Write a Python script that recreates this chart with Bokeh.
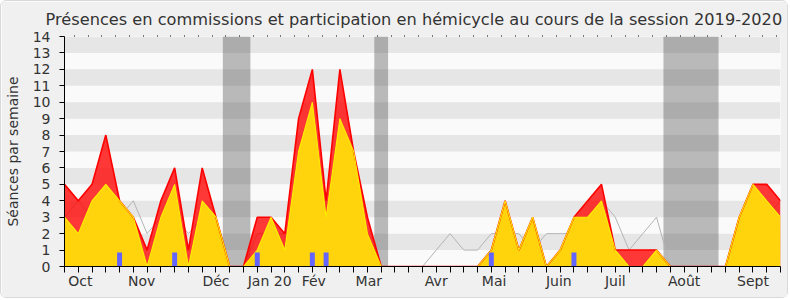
from bokeh.plotting import figure
from bokeh.models import FixedTicker, LinearAxis, Range1d
from bokeh.embed import file_html
from bokeh.resources import INLINE

# ---- data (weekly, session 2019-2020) ----
weeks = list(range(53))
hemicycle = [3, 4, 3, 4, 3, 4, 2, 3, 3, 2, 3, 3, 0, 0, 2, 2, 2, 3, 2, 3,
             6, 5, 2, 0, 0, 0, 0, 1, 2, 1, 1, 2, 2, 2, 1, 2, 2, 2, 3, 4,
             3, 1, 2, 3, 0, 0, 0, 0, 0, 2, 3, 3, 4]
commission_total = [5, 4, 5, 8, 4, 3, 1, 4, 6, 1, 6, 3, 0, 0, 3, 3, 2, 9, 12, 4,
                    12, 7, 3, 0, 0, 0, 0, 0, 0, 0, 0, 1, 4, 1, 3, 0, 1, 3, 4, 5,
                    1, 1, 1, 1, 0, 0, 0, 0, 0, 3, 5, 5, 4]
commission = [3, 2, 4, 5, 4, 3, 0, 3, 5, 0, 4, 3, 0, 0, 1, 3, 1, 7, 10, 3,
              9, 7, 2, 0, 0, 0, 0, 0, 0, 0, 0, 1, 4, 1, 3, 0, 1, 3, 3, 4,
              1, 0, 0, 1, 0, 0, 0, 0, 0, 3, 5, 4, 3]
questions = [0, 0, 0, 0, 1, 0, 0, 0, 1, 0, 0, 0, 0, 0, 1, 0, 0, 0, 1, 1,
             0, 0, 0, 0, 0, 0, 0, 0, 0, 0, 0, 1, 0, 0, 0, 0, 0, 1, 0, 0,
             0, 0, 0, 0, 0, 0, 0, 0, 0, 0, 0, 0, 0]
vac_start = [11.5, 22.5, 43.5]
vac_end = [13.5, 23.5, 47.5]
month_labels = ["Oct", "Nov", "Déc", "Jan 20", "Fév", "Mar", "Avr", "Mai",
                "Juin", "Juil", "Août", "Sept"]
month_pos = [1.15, 5.6, 11.0, 14.9, 18.1, 22.1, 27.0, 31.2, 35.9, 40.0, 45.0, 50.0]
y_ticks = list(range(15))

FONT = "DejaVu Sans"
TXT = "#333333"

p = figure(width=788, height=298,
           x_range=Range1d(0, 52), y_range=Range1d(0, 14),
           output_backend="svg", toolbar_location=None,
           min_border_left=60, min_border_right=9,
           min_border_top=35, min_border_bottom=33,
           background_fill_color="#fafafa", border_fill_color="#f0f0f0",
           outline_line_color=None)
p.styles = {"border": "1px solid #d9d9d9", "border-radius": "6px"}

p.title.text = "Présences en commissions et participation en hémicycle au cours de la session 2019-2020"
p.title.align = "left"
p.title.offset = -19
p.title.standoff = 13
p.title.text_font = FONT
p.title.text_font_size = "16.2px"
p.title.text_font_style = "normal"
p.title.text_color = TXT

p.grid.visible = False

# stripes
light_y = [k + 0.5 for k in y_ticks[0:-1:2]]
dark_y = [k + 0.5 for k in y_ticks[1:-1:2]]
p.hbar(y=light_y, height=1, left=0, right=52, fill_color="#fafafa", line_color=None)
p.hbar(y=dark_y, height=1, left=0, right=52, fill_color="#e6e6e6", line_color=None)

# vacation bands
p.quad(left=vac_start, right=vac_end, bottom=0, top=14,
       fill_color="#313131", fill_alpha=0.32, line_color=None)

# hemicycle line
p.line(weeks, hemicycle, line_color="#b4b4b4", line_width=1)

# commission areas
p.varea(x=weeks, y1=0, y2=commission_total, fill_color="#ff0000", fill_alpha=0.78)
p.varea(x=weeks, y1=0, y2=commission, fill_color="#ffd40c")
p.line(weeks, commission_total, line_color="#ff0000", line_width=1.6)
p.line(weeks, commission, line_color="#ffee00", line_width=1.1)

# questions bars
p.vbar(x=weeks, top=[q * 0.85 for q in questions], width=0.36,
       fill_color="#6464ff", line_color=None)

# axes
xa = p.xaxis[0]
xa.ticker = FixedTicker(ticks=month_pos, minor_ticks=weeks)
xa.major_label_overrides = {pos: lab for pos, lab in zip(month_pos, month_labels)}
xa.major_tick_out = 0
xa.major_tick_in = 0
xa.minor_tick_out = 6
xa.minor_tick_in = 0
xa.minor_tick_line_color = "black"
xa.axis_line_color = "black"
xa.major_label_standoff = 0
xa.major_label_text_font = FONT
xa.major_label_text_font_size = "14px"
xa.major_label_text_color = TXT

ya = p.yaxis[0]
ya.ticker = FixedTicker(ticks=y_ticks)
ya.minor_tick_line_color = None
ya.major_tick_out = 5
ya.major_tick_in = 0
ya.axis_line_color = "black"
ya.major_tick_line_color = "black"
ya.major_label_standoff = 9
ya.major_label_text_font = FONT
ya.major_label_text_font_size = "14px"
ya.major_label_text_color = TXT
ya.axis_label = "Séances par semaine"
ya.axis_label_text_font = FONT
ya.axis_label_text_font_size = "14px"
ya.axis_label_text_font_style = "normal"
ya.axis_label_text_color = TXT
ya.axis_label_standoff = 9

top = LinearAxis(ticker=FixedTicker(ticks=[], minor_ticks=[w + 0.72 for w in weeks[:-1]]),
                 axis_line_color=None, major_tick_out=0, major_tick_in=0,
                 minor_tick_out=1, minor_tick_in=0,
                 minor_tick_line_color="black", major_label_standoff=0)
p.add_layout(top, "above")

open("out.html", "w").write(file_html(p, INLINE))
